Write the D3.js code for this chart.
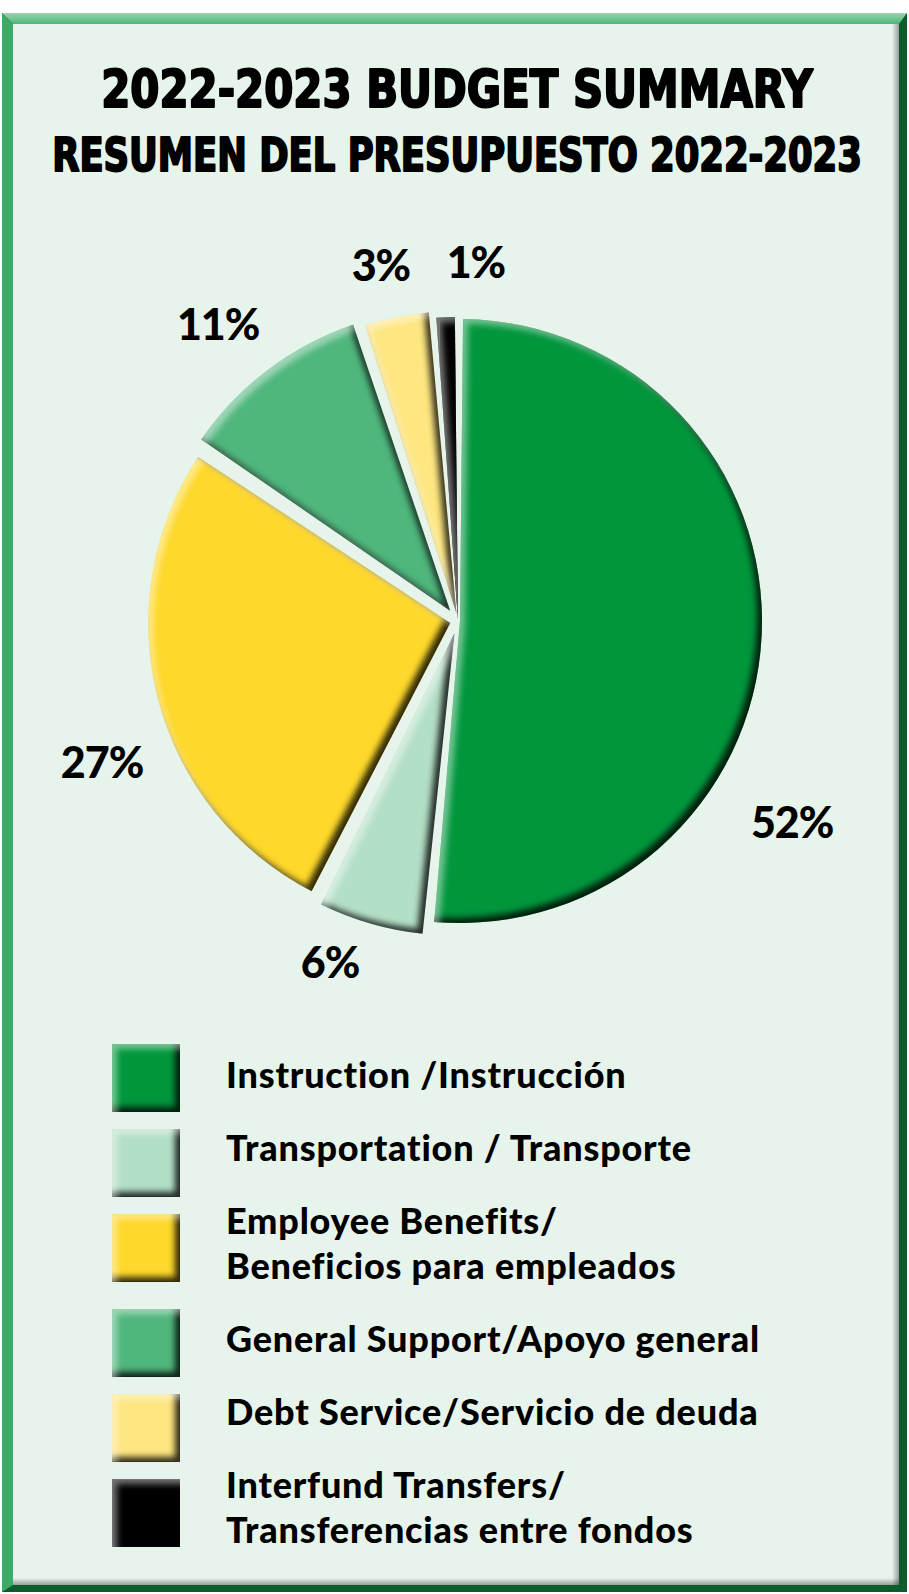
<!DOCTYPE html>
<html>
<head>
<meta charset="utf-8">
<script src="https://cdn.jsdelivr.net/npm/d3@7"></script>
<style>
  body { margin: 0; background: #fff; }
  svg { display: block; }
</style>
</head>
<body>
<div id="chart"></div>
<script>
const titleLines = ["2022-2023 BUDGET SUMMARY", "RESUMEN DEL PRESUPUESTO 2022-2023"];
const categories = ["Instruction", "Transportation", "Employee Benefits", "General Support", "Debt Service", "Interfund Transfers"];
const shares = [52.2, 5.7, 27.2, 10.4, 3.5, 1.0];
const pctLabels = ["52%", "6%", "27%", "11%", "3%", "1%"];
const legendLines = [
  ["Instruction /Instrucción"],
  ["Transportation / Transporte"],
  ["Employee Benefits/", "Beneficios para empleados"],
  ["General Support/Apoyo general"],
  ["Debt Service/Servicio de deuda"],
  ["Interfund Transfers/", "Transferencias entre fondos"]
];
const colors = ["#00963c", "#b3dfc6", "#fed82a", "#4fb67c", "#fee681", "#000000"];

// layout
const width = 909, height = 1594;
const cx = 458, cy = 621, radius = 302;
const explode = [2, 13, 8, 13, 8, 2];
const labelShift = [28.3, 4.4, -7, -1.9, -0.8, 5.2];
const labelRadius = [390, 365, 383, 381, 364, 359];

const svg = d3.select("#chart")
  .append("svg")
  .attr("width", width)
  .attr("height", height);

const defs = svg.append("defs");

// bevel: dark inner edge bottom-right, light inner edge top-left
const bevel = defs.append("filter")
  .attr("id", "bevel")
  .attr("x", "-5%").attr("y", "-5%")
  .attr("width", "110%").attr("height", "110%")
  .attr("color-interpolation-filters", "sRGB");
bevel.append("feGaussianBlur").attr("in", "SourceAlpha").attr("stdDeviation", 3).attr("result", "blur");
bevel.append("feOffset").attr("in", "blur").attr("dx", -5).attr("dy", -5).attr("result", "blurDark");
bevel.append("feComposite").attr("in", "SourceAlpha").attr("in2", "blurDark").attr("operator", "out").attr("result", "darkMask");
bevel.append("feFlood").attr("flood-color", "#000").attr("flood-opacity", 0.8).attr("result", "darkFill");
bevel.append("feComposite").attr("in", "darkFill").attr("in2", "darkMask").attr("operator", "in").attr("result", "dark");
bevel.append("feOffset").attr("in", "blur").attr("dx", 5).attr("dy", 5).attr("result", "blurLight");
bevel.append("feComposite").attr("in", "SourceAlpha").attr("in2", "blurLight").attr("operator", "out").attr("result", "lightMask");
bevel.append("feFlood").attr("flood-color", "#fff").attr("flood-opacity", 0.45).attr("result", "lightFill");
bevel.append("feComposite").attr("in", "lightFill").attr("in2", "lightMask").attr("operator", "in").attr("result", "light");
const merge = bevel.append("feMerge");
merge.append("feMergeNode").attr("in", "SourceGraphic");
merge.append("feMergeNode").attr("in", "dark");
merge.append("feMergeNode").attr("in", "light");

const topGrad = defs.append("linearGradient")
  .attr("id", "topGrad").attr("x1", 0).attr("y1", 0).attr("x2", 0).attr("y2", 1);
topGrad.append("stop").attr("offset", "0%").attr("stop-color", "#9ad6b0");
topGrad.append("stop").attr("offset", "100%").attr("stop-color", "#4db579");

const rightShade = defs.append("linearGradient")
  .attr("id", "rightShade").attr("x1", 0).attr("y1", 0).attr("x2", 1).attr("y2", 0);
rightShade.append("stop").attr("offset", "0%").attr("stop-color", "#000").attr("stop-opacity", 0);
rightShade.append("stop").attr("offset", "100%").attr("stop-color", "#000").attr("stop-opacity", 0.35);

const bottomShade = defs.append("linearGradient")
  .attr("id", "bottomShade").attr("x1", 0).attr("y1", 0).attr("x2", 0).attr("y2", 1);
bottomShade.append("stop").attr("offset", "0%").attr("stop-color", "#000").attr("stop-opacity", 0);
bottomShade.append("stop").attr("offset", "100%").attr("stop-color", "#000").attr("stop-opacity", 0.35);

// frame
const frame = { x0: 2, y0: 13, x1: 907, y1: 1592, ix0: 13, iy0: 24, ix1: 899, iy1: 1585 };
svg.append("rect")
  .attr("x", frame.x0).attr("y", frame.y0)
  .attr("width", frame.x1 - frame.x0).attr("height", frame.y1 - frame.y0)
  .attr("fill", "#0c5c2c");
svg.append("path")
  .attr("d", `M${frame.x0},${frame.y0}H${frame.x1}L${frame.ix1},${frame.iy0}H${frame.ix0}Z`)
  .attr("fill", "url(#topGrad)");
svg.append("path")
  .attr("d", `M${frame.x0},${frame.y0}L${frame.ix0},${frame.iy0}V${frame.iy1}L${frame.x0},${frame.y1}Z`)
  .attr("fill", "#3aac68");
svg.append("rect")
  .attr("x", frame.ix0).attr("y", frame.iy0)
  .attr("width", frame.ix1 - frame.ix0).attr("height", frame.iy1 - frame.iy0)
  .attr("fill", "#e6f4eb");
svg.append("rect")
  .attr("x", frame.ix1 - 7).attr("y", frame.iy0)
  .attr("width", 7).attr("height", frame.iy1 - frame.iy0)
  .attr("fill", "url(#rightShade)");
svg.append("rect")
  .attr("x", frame.ix0).attr("y", frame.iy1 - 7)
  .attr("width", frame.ix1 - frame.ix0).attr("height", 7)
  .attr("fill", "url(#bottomShade)");

// titles: condensed by a horizontal scale to the reference width
const titleSpec = [
  { y: 107, size: 51, len: 712 },
  { y: 171, size: 47, len: 810 }
];
svg.selectAll(".title")
  .data(titleLines)
  .join("text")
  .attr("class", "title")
  .attr("text-anchor", "middle")
  .style("font-family", "'DejaVu Sans Condensed', 'DejaVu Sans', sans-serif")
  .style("font-weight", "bold")
  .style("font-size", (d, i) => titleSpec[i].size + "px")
  .attr("fill", "#000")
  .attr("stroke", "#000")
  .attr("stroke-width", 2)
  .attr("stroke-linejoin", "round")
  .text(d => d)
  .each(function (d, i) {
    const natural = this.getComputedTextLength();
    const sx = titleSpec[i].len / natural;
    d3.select(this).attr("transform", `translate(457,${titleSpec[i].y}) scale(${sx},1)`);
  });

// pie
const pie = d3.pie().sort(null).value(d => d).padAngle(0.02);
const arcs = pie(shares);
const arc = d3.arc().innerRadius(0).outerRadius(radius);

const pieG = svg.append("g").attr("transform", `translate(${cx},${cy})`);

pieG.selectAll("path")
  .data(arcs)
  .join("path")
  .attr("transform", (d, i) => {
    const mid = (d.startAngle + d.endAngle) / 2;
    const [dx, dy] = d3.pointRadial(mid, explode[i]);
    return `translate(${dx},${dy})`;
  })
  .attr("d", arc)
  .attr("fill", (d, i) => colors[i])
  .attr("filter", "url(#bevel)");

const labelPos = (d, i) => d3.pointRadial(
  (d.startAngle + d.endAngle) / 2 + labelShift[i] * Math.PI / 180,
  labelRadius[i]
);

pieG.selectAll(".pct")
  .data(arcs)
  .join("text")
  .attr("class", "pct")
  .attr("x", (d, i) => labelPos(d, i)[0])
  .attr("y", (d, i) => labelPos(d, i)[1])
  .attr("dy", "0.36em")
  .attr("text-anchor", "middle")
  .attr("letter-spacing", -1)
  .style("font-family", "Lato, 'Open Sans', sans-serif")
  .style("font-weight", 900)
  .style("font-size", "43px")
  .attr("fill", "#000")
  .text((d, i) => pctLabels[i]);

// legend
const legendX = 112, boxSize = 68, textX = 226;
let boxTop = 1044, baseline = 1088;
const legendRows = legendLines.map((lines, i) => {
  const row = { i, lines, boxTop, baseline };
  boxTop += 85 + (lines.length > 1 ? 10 : 0);
  baseline += 73 + (lines.length - 1) * 45;
  return row;
});

const legend = svg.append("g");
legend.selectAll("rect")
  .data(legendRows)
  .join("rect")
  .attr("x", legendX)
  .attr("y", d => d.boxTop)
  .attr("width", boxSize)
  .attr("height", boxSize)
  .attr("fill", d => colors[d.i])
  .attr("filter", "url(#bevel)");

legend.selectAll("text")
  .data(legendRows)
  .join("text")
  .attr("x", textX)
  .attr("y", d => d.baseline)
  .attr("letter-spacing", 0.8)
  .style("font-family", "Lato, 'Open Sans', sans-serif")
  .style("font-weight", 900)
  .style("font-size", "36px")
  .attr("fill", "#000")
  .selectAll("tspan")
  .data(d => d.lines)
  .join("tspan")
  .attr("x", textX)
  .attr("dy", (d, j) => j === 0 ? 0 : 45)
  .text(d => d);
</script>
</body>
</html>
